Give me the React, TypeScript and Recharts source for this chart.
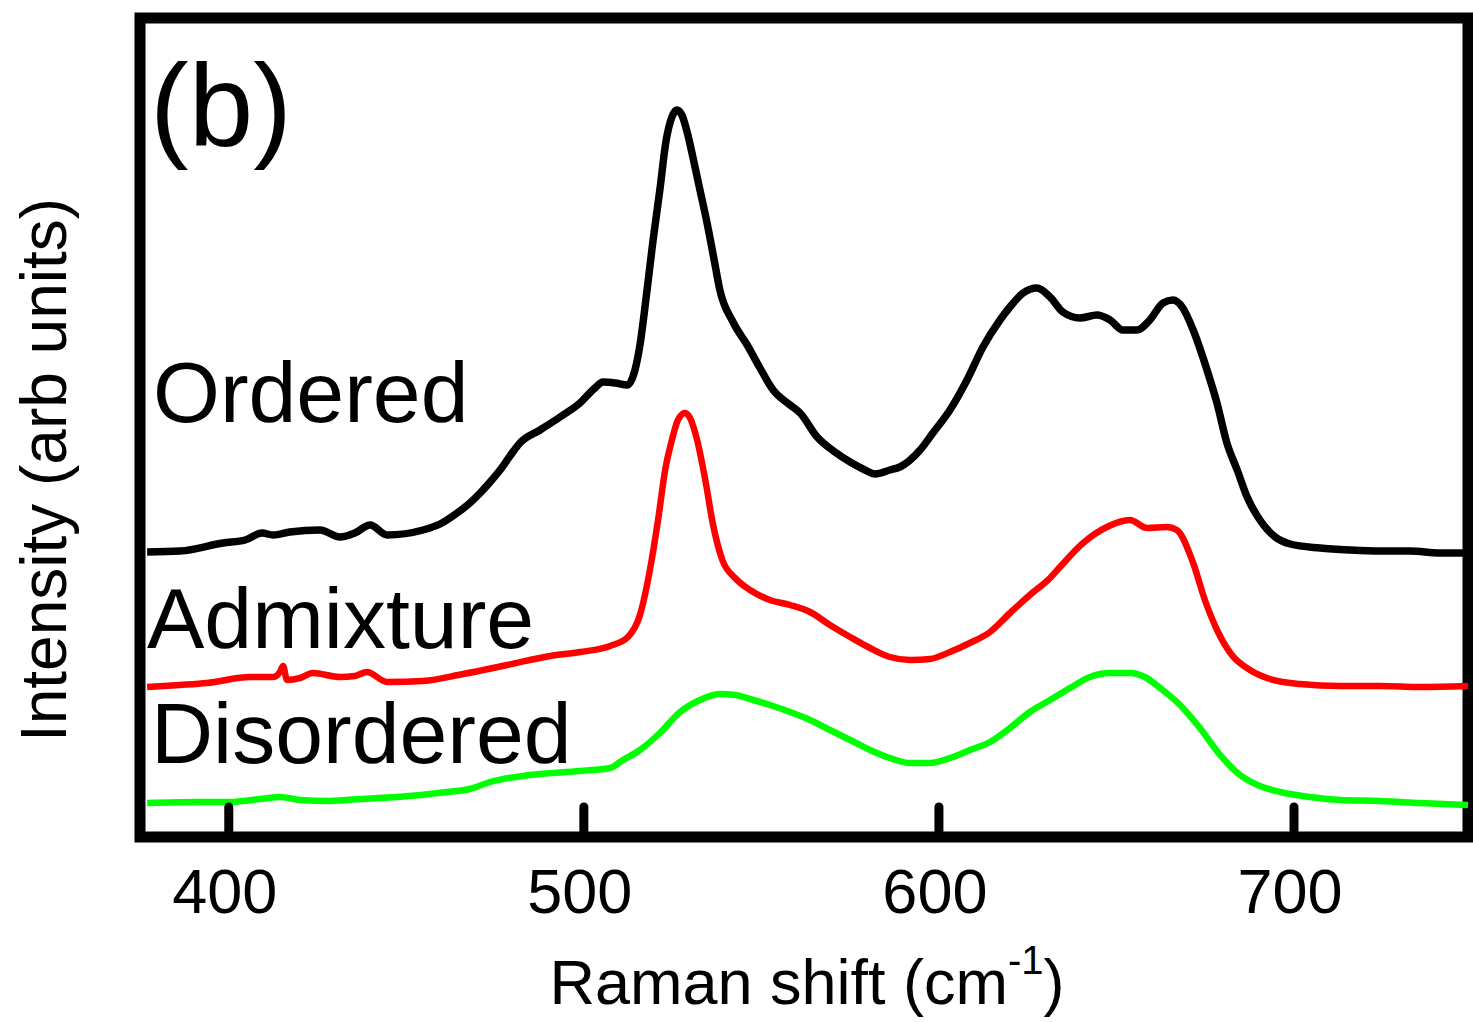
import React from 'react';
import { LineChart, Line, XAxis, YAxis, ReferenceArea } from 'recharts';

// Raman shift (cm^-1) and intensity (arb units)
const orderedShift = [377.0, 386.3, 398.4, 404.6, 409.4, 412.5, 417.2, 425.7, 431.3, 435.5, 439.8, 444.6, 454.7, 459.5, 464.3, 467.9, 470.8, 473.6, 476.4, 479.2, 482.0, 487.7, 493.3, 498.9, 503.1, 505.4, 508.8, 512.2, 514.4, 515.8, 517.8, 519.5, 521.4, 523.1, 524.8, 526.2, 527.6, 529.3, 530.7, 532.7, 534.7, 536.7, 538.3, 542.0, 546.0, 549.6, 553.3, 558.1, 560.9, 565.7, 570.7, 575.0, 579.2, 582.0, 586.2, 589.0, 594.7, 598.3, 603.1, 607.9, 612.4, 617.2, 620.0, 623.7, 627.6, 631.3, 634.9, 639.7, 644.5, 648.2, 651.8, 655.8, 659.4, 663.1, 665.9, 668.7, 671.6, 675.5, 678.3, 681.1, 684.0, 686.8, 690.4, 694.7, 698.9, 707.3, 715.8, 724.2, 732.7, 741.1, 749.0];
const orderedIntensity = [285, 286, 294, 297, 304, 302, 305, 307, 300, 304, 312, 302, 307, 313, 324, 334, 344, 355, 367, 381, 394, 407, 420, 434, 449, 455, 454, 452, 467, 492, 547, 597, 647, 695, 720, 727, 722, 702, 680, 647, 614, 577, 547, 515, 492, 469, 447, 432, 424, 400, 385, 375, 367, 363, 367, 370, 387, 404, 427, 457, 490, 517, 530, 544, 549, 540, 525, 519, 522, 517, 507, 507, 517, 534, 537, 529, 507, 467, 434, 394, 367, 340, 317, 300, 293, 289, 287, 286, 286, 284, 284];

const admixtureShift = [377.0, 386.3, 393.9, 406.0, 412.5, 414.4, 415.3, 416.4, 420.1, 423.7, 431.3, 435.5, 438.9, 444.6, 454.7, 466.0, 478.4, 490.5, 498.9, 507.4, 512.4, 515.8, 518.6, 520.9, 522.9, 524.8, 526.5, 528.5, 529.9, 531.9, 534.2, 536.4, 539.0, 542.6, 546.8, 552.4, 558.1, 563.7, 569.3, 575.0, 580.6, 586.2, 591.9, 597.5, 603.1, 608.7, 614.4, 620.0, 625.6, 631.3, 634.1, 640.6, 647.3, 653.8, 658.6, 664.2, 667.0, 671.6, 674.9, 678.6, 682.5, 687.6, 693.2, 701.7, 713.0, 724.2, 735.5, 749.0];
const admixtureIntensity = [150, 152, 154, 160, 160, 165, 171, 157, 159, 164, 160, 161, 165, 155, 156, 163, 172, 181, 185, 191, 200, 222, 267, 317, 367, 397, 417, 424, 419, 397, 357, 312, 277, 259, 247, 237, 232, 225, 212, 200, 189, 180, 177, 178, 185, 194, 205, 224, 242, 259, 270, 294, 310, 317, 309, 310, 307, 274, 237, 205, 182, 167, 158, 153, 151, 151, 150, 151];

const disorderedShift = [377.0, 391.1, 400.3, 408.8, 414.4, 420.1, 428.5, 437.0, 447.4, 461.5, 467.9, 473.6, 484.8, 498.9, 507.4, 511.0, 515.8, 521.4, 527.1, 532.7, 538.3, 542.6, 546.8, 552.4, 558.1, 563.7, 569.3, 575.0, 580.6, 586.2, 591.9, 597.5, 603.1, 608.7, 614.4, 620.0, 625.6, 631.3, 636.9, 642.5, 648.2, 653.8, 658.0, 662.3, 667.9, 673.5, 679.2, 684.8, 690.4, 696.1, 704.5, 713.0, 724.2, 735.5, 749.0];
const disorderedIntensity = [34, 35, 35, 38, 40, 37, 36, 38, 40, 45, 48, 55, 62, 66, 69, 77, 87, 104, 125, 137, 143, 142, 138, 132, 125, 117, 107, 97, 87, 79, 74, 74, 79, 87, 95, 109, 125, 137, 149, 160, 164, 164, 160, 149, 132, 109, 82, 62, 51, 45, 40, 37, 36, 34, 32];

const xTicks = [400, 500, 600, 700];
const xDomain = [375, 749];
const yDomain = [0, 819];

const toPoints = (xs: number[], ys: number[]) => xs.map((x, i) => ({ x, y: ys[i] }));

const orderedData = toPoints(orderedShift, orderedIntensity);
const admixtureData = toPoints(admixtureShift, admixtureIntensity);
const disorderedData = toPoints(disorderedShift, disorderedIntensity);

const FONT = '"Liberation Sans", Arial, Helvetica, sans-serif';

function InwardTick(props: any) {
  const { x, y, payload } = props;
  return (
    <g>
      <line x1={x} x2={x} y1={y} y2={y - 30} stroke="#000" strokeWidth={9} strokeLinecap="round" />
      <text x={x - 4} y={y + 76} textAnchor="middle" fontSize={63} fontFamily={FONT} fill="#000">
        {payload.value}
      </text>
    </g>
  );
}

export default function App() {
  return (
    <div style={{ position: 'absolute', left: 0, top: 0, background: '#fff' }}>
      <LineChart width={1473} height={1022} margin={{ top: 18, right: 5, bottom: 85, left: 140 }}>
        <XAxis
          dataKey="x"
          type="number"
          domain={xDomain}
          ticks={xTicks}
          allowDataOverflow
          axisLine={false}
          tickLine={false}
          tickSize={0}
          tickMargin={0}
          height={100}
          tick={<InwardTick />}
        />
        <YAxis type="number" domain={yDomain} hide allowDataOverflow />
        <Line data={disorderedData} dataKey="y" type="monotone" stroke="#00ff00" strokeWidth={6.5} dot={false} isAnimationActive={false} />
        <Line data={admixtureData} dataKey="y" type="monotone" stroke="#ff0000" strokeWidth={6.5} dot={false} isAnimationActive={false} />
        <Line data={orderedData} dataKey="y" type="monotone" stroke="#000000" strokeWidth={7.5} dot={false} isAnimationActive={false} />
        <ReferenceArea x1={375} x2={749} y1={0} y2={819} fill="none" stroke="#000" strokeWidth={11} ifOverflow="visible" />
        <text x={150} y={146} fontSize={116} fontFamily={FONT} fill="#000">(b)</text>
        <text x={153} y={422} fontSize={86} fontFamily={FONT} fill="#000">Ordered</text>
        <text x={147} y={648} fontSize={86} fontFamily={FONT} fill="#000">Admixture</text>
        <text x={151} y={763} fontSize={86} fontFamily={FONT} fill="#000">Disordered</text>
        <text x={807} y={1004} textAnchor="middle" fontSize={63} fontFamily={FONT} fill="#000">
          Raman shift (cm<tspan fontSize={40} dy={-30}>-1</tspan><tspan dy={30}>)</tspan>
        </text>
        <text x={66} y={470} textAnchor="middle" fontSize={64} fontFamily={FONT} fill="#000" transform="rotate(-90, 66, 470)">
          Intensity (arb units)
        </text>
      </LineChart>
    </div>
  );
}
